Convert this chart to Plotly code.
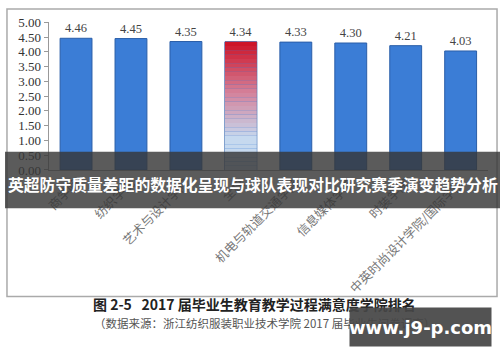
import plotly.graph_objects as go

categories = ["商学院", "纺织学院", "艺术与设计学院", "全校", "机电与轨道交通学院",
              "信息媒体学院", "时装学院", "中英时尚设计学院/国际学院"]
scores = [4.46, 4.45, 4.35, 4.34, 4.33, 4.30, 4.21, 4.03]
highlight = "全校"
y_ticks = [0, 0.5, 1.0, 1.5, 2.0, 2.5, 3.0, 3.5, 4.0, 4.5, 5.0]

W, H = 500, 362
def px(x): return x / W
def py(y): return 1 - y / H

BLUE = "#3b7dd6"
BLUE_EDGE = "#2a5ea8"

colors = [BLUE for c in categories]
fig = go.Figure()
fig.add_trace(go.Bar(
    x=categories, y=scores, width=0.58,
    marker=dict(color=colors, line=dict(color=BLUE_EDGE, width=1)),
    texttemplate="%{y:.2f}", textposition="outside",
    textfont=dict(family="Liberation Serif", size=12.5, color="#444"),
    cliponaxis=False, showlegend=False, hoverinfo="skip",
))

# gradient for highlighted bar (red top -> light blue bottom)
hi_val = scores[categories.index(highlight)]
N = 30
top = (205, 16, 36)
mid = (212, 130, 155)
bot = (198, 217, 239)
def lerp(a, b, t): return tuple(int(round(a[i] + (b[i] - a[i]) * t)) for i in range(3))
for i in range(N):
    t = (i + 0.5) / N  # 0 bottom .. 1 top
    if t < 0.25:
        c = bot
    elif t < 0.6:
        c = lerp(bot, mid, (t - 0.25) / 0.35)
    else:
        c = lerp(mid, top, (t - 0.6) / 0.4)
    fig.add_trace(go.Bar(
        x=[highlight], y=[hi_val / N], base=[i * hi_val / N], width=0.58,
        marker=dict(color="rgb(%d,%d,%d)" % c, line=dict(width=0)),
        showlegend=False, hoverinfo="skip",
    ))

fig.update_layout(
    width=W, height=H, margin=dict(l=0, r=0, t=0, b=0),
    paper_bgcolor="white", plot_bgcolor="white",
    barmode="overlay",
    xaxis=dict(domain=[px(44), px(488)], anchor="y", tickangle=-45,
               tickfont=dict(family="Noto Sans CJK SC", size=12.5, color="#777"),
               showline=True, linecolor="#999", ticks="", showgrid=False),
    yaxis=dict(domain=[py(170), py(16)], range=[0, 5], tickvals=y_ticks,
               tickformat=".2f", showline=True, linecolor="#999",
               ticks="outside", ticklen=4, tickcolor="#999", showgrid=False,
               tickfont=dict(family="Liberation Serif", size=13, color="#333")),
    shapes=[
        dict(type="rect", xref="paper", yref="paper", x0=px(2), x1=px(497),
             y0=py(302), y1=py(2), line=dict(color="#aaa", width=1.5), layer="below"),
        dict(type="rect", xref="paper", yref="paper", x0=0, x1=1,
             y0=py(210), y1=py(151), fillcolor="rgba(55,55,55,0.82)",
             line=dict(width=0), layer="above"),
    ],
    annotations=[
        dict(text="<b>英超防守质量差距的数据化呈现与球队表现对比研究赛季演变趋势分析</b>",
             xref="paper", yref="paper", x=0.5, y=py(185), showarrow=False,
             font=dict(family="Noto Sans CJK SC", size=15.8, color="white")),
        dict(text="<b>图 2-5   2017 届毕业生教育教学过程满意度学院排名</b>",
             xref="paper", yref="paper", x=px(252), y=py(322), showarrow=False,
             font=dict(family="Noto Sans CJK SC", size=14, color="#222")),
        dict(text="（数据来源：浙江纺织服装职业技术学院 2017 届毕业生问卷调查）",
             xref="paper", yref="paper", x=px(262), y=py(340), showarrow=False,
             font=dict(family="Noto Sans CJK SC", size=11.5, color="#555")),
        dict(text="<b>www.j9-p.com</b>",
             xref="paper", yref="paper", x=px(420), y=py(334), showarrow=False,
             width=141, height=38, bgcolor="rgba(70,70,70,0.93)", borderpad=0,
             xanchor="center", yanchor="middle",
             font=dict(family="DejaVu Sans", size=18, color="white")),
    ],
)

fig.write_html("out.html")
